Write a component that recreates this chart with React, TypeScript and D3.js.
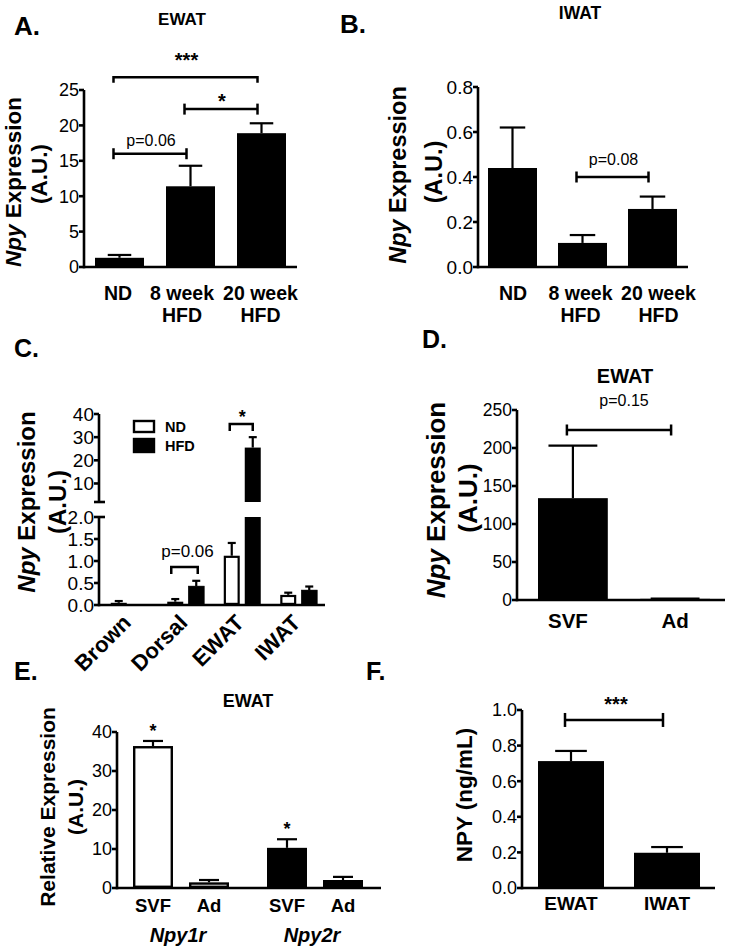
import React from "react";
import * as d3 from "d3";

const FONT = "'Liberation Sans', Arial, Helvetica, sans-serif";

// ---------- Panel A : EWAT ----------
const aCategories = ["ND", "8 week", "20 week"];
const aSublabels = ["", "HFD", "HFD"];
const aMeans = [1.3, 11.4, 18.9];
const aErrors = [0.4, 2.9, 1.4];
const aTicks = [0, 5, 10, 15, 20, 25];
const aBrackets = [
  { from: "ND", to: "20 week", level: 26.8, label: "***", kind: "down" },
  { from: "8 week", to: "20 week", level: 22.3, label: "*", kind: "H" },
  { from: "ND", to: "8 week", level: 16.0, label: "p=0.06", kind: "H" },
];

// ---------- Panel B : IWAT ----------
const bCategories = ["ND", "8 week", "20 week"];
const bSublabels = ["", "HFD", "HFD"];
const bMeans = [0.44, 0.107, 0.258];
const bErrors = [0.18, 0.035, 0.055];
const bTicks = [0, 0.2, 0.4, 0.6, 0.8];
const bBrackets = [{ from: "8 week", to: "20 week", level: 0.4, label: "p=0.08", kind: "H" }];

// ---------- Panel C : tissues ND vs HFD ----------
const cTissues = ["Brown", "Dorsal", "EWAT", "IWAT"];
const cDiets = ["ND", "HFD"];
const cNDMeans = [0.05, 0.075, 1.12, 0.23];
const cNDErrors = [0.04, 0.06, 0.29, 0.05];
const cHFDMeans = [0.01, 0.43, 25.5, 0.34];
const cHFDErrors = [0.0, 0.12, 4.5, 0.08];
const cLowerTicks = [0, 0.5, 1.0, 1.5, 2.0];
const cUpperTicks = [10, 20, 30, 40];
const cBreak = 2;

// ---------- Panel D : EWAT SVF vs Ad ----------
const dCategories = ["SVF", "Ad"];
const dMeans = [134, 1.5];
const dErrors = [69, 0.5];
const dTicks = [0, 50, 100, 150, 200, 250];
const dBrackets = [{ from: "SVF", to: "Ad", level: 223.7, label: "p=0.15", kind: "H" }];

// ---------- Panel E : receptors ----------
const eGenes = ["Npy1r", "Npy2r"];
const eFractions = ["SVF", "Ad"];
const eNpy1rMeans = [36.4, 1.45];
const eNpy1rErrors = [1.3, 0.6];
const eNpy2rMeans = [10.3, 2.05];
const eNpy2rErrors = [2.2, 0.8];
const eTicks = [0, 10, 20, 30, 40];
const eSignificant = ["SVF"];

// ---------- Panel F : NPY protein ----------
const fCategories = ["EWAT", "IWAT"];
const fMeans = [0.713, 0.198];
const fErrors = [0.057, 0.032];
const fTicks = [0, 0.2, 0.4, 0.6, 0.8, 1.0];
const fBrackets = [{ from: "EWAT", to: "IWAT", level: 0.944, label: "***", kind: "H" }];

const K = "#000";
const AXW = 2.6;

function YAxis({ x, scale, ticks, fmt, fs, y0, y1 }: any) {
  const top = y1 ?? scale(ticks[ticks.length - 1]);
  const bot = y0 ?? scale(ticks[0]);
  return (
    <g>
      <line x1={x} x2={x} y1={top} y2={bot + AXW / 2} stroke={K} strokeWidth={AXW} />
      {ticks.map((t: number) => (
        <g key={t}>
          <line x1={x - 5} x2={x} y1={scale(t)} y2={scale(t)} stroke={K} strokeWidth={AXW} />
          <text x={x - 5} y={scale(t)} dy="0.36em" textAnchor="end" fontSize={fs}>
            {fmt(t)}
          </text>
        </g>
      ))}
    </g>
  );
}

function ErrorBar({ cx, y1, y2, cap }: any) {
  return (
    <g stroke={K} strokeWidth={2.2}>
      <line x1={cx} x2={cx} y1={y1} y2={y2} />
      <line x1={cx - cap / 2} x2={cx + cap / 2} y1={y2} y2={y2} />
    </g>
  );
}

function Brackets({ list, x, y, fs, gapStar, gapText, capH, textDx = 0 }: any) {
  return (
    <g>
      {list.map((b: any, i: number) => {
        const x1 = x(b.from) + x.bandwidth() / 2 - 6;
        const x2 = x(b.to) + x.bandwidth() / 2 - 4;
        const yy = y(b.level);
        const mid = (x1 + x2) / 2;
        const isStar = b.label.startsWith("*");
        return (
          <g key={i}>
            {b.kind === "H" ? (
              <g stroke={K} strokeWidth={2.5}>
                <line x1={x1} x2={x2} y1={yy} y2={yy} />
                <line x1={x1} x2={x1} y1={yy - capH} y2={yy + capH} />
                <line x1={x2} x2={x2} y1={yy - capH} y2={yy + capH} />
              </g>
            ) : (
              <path d={`M${x1},${yy + capH}V${yy}H${x2}V${yy + capH}`} stroke={K} strokeWidth={2.5} fill="none" />
            )}
            {isStar ? (
              <text x={mid + textDx} y={yy - (b.kind === "H" ? gapStar : gapStar + 9) + 0.55 * 20} textAnchor="middle" fontSize={20} fontWeight="bold">
                {b.label}
              </text>
            ) : (
              <text x={mid + textDx} y={yy - gapText} textAnchor="middle" fontSize={fs}>
                {b.label}
              </text>
            )}
          </g>
        );
      })}
    </g>
  );
}

function SimpleBars({ cats, means, errs, x, y, capRatio, labelY, labelFs, sub, subY, labelDx }: any) {
  const y0 = y(0);
  const bw = x.bandwidth();
  return (
    <g>
      {cats.map((c: string, i: number) => {
        const bx = x(c);
        const cx = bx + bw / 2;
        const top = y(means[i]);
        const et = y(means[i] + errs[i]);
        const lx = cx + (labelDx ? labelDx[i] : 0);
        return (
          <g key={c}>
            <ErrorBar cx={cx} y1={top} y2={et} cap={bw * capRatio} />
            <rect x={bx} y={top} width={bw} height={y0 - top} fill={K} />
            <text x={lx} y={labelY} textAnchor="middle" fontWeight="bold" fontSize={labelFs}>
              {c}
            </text>
            {sub && sub[i] ? (
              <text x={lx} y={subY} textAnchor="middle" fontWeight="bold" fontSize={labelFs}>
                {sub[i]}
              </text>
            ) : null}
          </g>
        );
      })}
    </g>
  );
}

function RotLabel({ bx, cy, fs, children }: any) {
  return (
    <text transform={`translate(${bx},${cy}) rotate(-90)`} textAnchor="middle" fontWeight="bold" fontSize={fs}>
      {children}
    </text>
  );
}

export default function App() {
  const f1 = d3.format(".1f");
  const f0 = d3.format("d");

  // A
  const aX = d3.scaleBand<string>().domain(aCategories).range([95, 286]).paddingInner(0.31).paddingOuter(0);
  const aY = d3.scaleLinear().domain([0, 25]).range([267, 90]);
  // B
  const bX = d3.scaleBand<string>().domain(bCategories).range([488, 677]).paddingInner(0.3).paddingOuter(0);
  const bY = d3.scaleLinear().domain([0, 0.8]).range([267, 87]);
  // C
  const cX = d3.scaleBand<string>().domain(cTissues).range([101, 327]);
  const cInner = d3.scaleBand<string>().domain(cDiets).range([9.75, 46.75]).paddingInner(0.238).paddingOuter(0);
  const cYL = d3.scaleLinear().domain([0, cBreak]).range([605, 517]);
  const cYU = d3.scaleLinear().domain([cBreak, 40]).range([502, 414]);
  const cAxisX = 99;
  // D
  const dX = d3.scaleBand<string>().domain(dCategories).range([538, 710]).paddingInner(0.317).paddingOuter(0);
  const dY = d3.scaleLinear().domain([0, 250]).range([600, 410]);
  // E
  const eX = d3.scaleBand<string>().domain(eGenes).range([114, 382]);
  const eInner = d3.scaleBand<string>().domain(eFractions).range([19, 115]).paddingInner(0.286).paddingOuter(0);
  const eY = d3.scaleLinear().domain([0, 40]).range([888, 732]);
  // F
  const fX = d3.scaleBand<string>().domain(fCategories).range([538, 700]).paddingInner(0.3125).paddingOuter(0);
  const fY = d3.scaleLinear().domain([0, 1]).range([888, 710]);

  const cMeans = [cNDMeans, cHFDMeans];
  const cErrs = [cNDErrors, cHFDErrors];
  const eMeans = [eNpy1rMeans, eNpy2rMeans];
  const eErrs = [eNpy1rErrors, eNpy2rErrors];

  return (
    <svg
      width={731}
      height={952}
      viewBox="0 0 731 952"
      style={{ position: "absolute", left: 0, top: 0, background: "#fff" }}
      fontFamily={FONT}
    >
      <rect x={0} y={0} width={731} height={952} fill="#fff" />

      {/* ================= A ================= */}
      <text x={14} y={35} fontSize={26} fontWeight="bold">A.</text>
      <text x={182} y={25} fontSize={17} fontWeight="bold" textAnchor="middle">EWAT</text>
      <SimpleBars cats={aCategories} means={aMeans} errs={aErrors} x={aX} y={aY} capRatio={0.48} labelY={300} labelFs={19.5} sub={aSublabels} subY={322} labelDx={[-1.5, -8.5, -1]} />
      <YAxis x={84} scale={aY} ticks={aTicks} fmt={f0} fs={18} />
      <line x1={84} x2={297} y1={aY(0)} y2={aY(0)} stroke={K} strokeWidth={AXW} />
      <Brackets list={aBrackets} x={aX} y={aY} fs={16} gapStar={12} gapText={8} capH={5.5} textDx={1} />
      <RotLabel bx={21} cy={182} fs={22.5}>
        <tspan fontStyle="italic">Npy</tspan> Expression
      </RotLabel>
      <RotLabel bx={47} cy={174} fs={22.5}>(A.U.)</RotLabel>

      {/* ================= B ================= */}
      <text x={340} y={33} fontSize={26} fontWeight="bold">B.</text>
      <text x={580} y={19} fontSize={17.5} fontWeight="bold" textAnchor="middle">IWAT</text>
      <SimpleBars cats={bCategories} means={bMeans} errs={bErrors} x={bX} y={bY} capRatio={0.52} labelY={300} labelFs={19.5} sub={bSublabels} subY={322} labelDx={[0.5, -2, 6]} />
      <YAxis x={478} scale={bY} ticks={bTicks} fmt={f1} fs={19} />
      <line x1={478} x2={688} y1={bY(0)} y2={bY(0)} stroke={K} strokeWidth={AXW} />
      <Brackets list={bBrackets} x={bX} y={bY} fs={16} gapStar={12} gapText={12} capH={5.5} textDx={1} />
      <RotLabel bx={406} cy={175} fs={23.5}>
        <tspan fontStyle="italic">Npy</tspan> Expression
      </RotLabel>
      <RotLabel bx={442} cy={172} fs={23.5}>(A.U.)</RotLabel>

      {/* ================= C ================= */}
      <text x={14} y={357} fontSize={25} fontWeight="bold">C.</text>
      {cTissues.map((t, ti) => {
        const gx = cX(t)!;
        return (
          <g key={t}>
            {cDiets.map((d, di) => {
              const bx = gx + cInner(d)!;
              const bw = cInner.bandwidth();
              const cx = bx + bw / 2;
              const v = cMeans[di][ti];
              const e = cErrs[di][ti];
              const white = d === "ND";
              const inset = white ? 1.1 : 0;
              if (v <= cBreak) {
                const top = cYL(v);
                return (
                  <g key={d}>
                    {e > 0 ? <ErrorBar cx={cx} y1={top} y2={cYL(v + e)} cap={bw * 0.5} /> : null}
                    <rect x={bx + inset} y={top + inset} width={bw - 2 * inset} height={Math.max(0.5, cYL(0) - top - 2 * inset)} fill={white ? "#fff" : K} stroke={K} strokeWidth={white ? 2.2 : 0.5} />
                  </g>
                );
              }
              const topU = cYU(v);
              return (
                <g key={d}>
                  <ErrorBar cx={cx} y1={topU} y2={cYU(v + e)} cap={bw * 0.5} />
                  <rect x={bx} y={topU} width={bw} height={cYU(cBreak) - topU} fill={K} />
                  <rect x={bx} y={cYL(cBreak)} width={bw} height={cYL(0) - cYL(cBreak)} fill={K} />
                </g>
              );
            })}
            <text transform={`translate(${gx + cX.bandwidth() / 2 + 3},624) rotate(-45)`} textAnchor="end" fontWeight="bold" fontSize={22}>
              {t}
            </text>
          </g>
        );
      })}
      <YAxis x={cAxisX} scale={cYL} ticks={cLowerTicks} fmt={f1} fs={19} />
      <YAxis x={cAxisX} scale={cYU} ticks={cUpperTicks} fmt={f0} fs={19} y0={cYU(cBreak) - AXW / 2} />
      <line x1={cAxisX - 5} x2={cAxisX + 6} y1={cYU(cBreak)} y2={cYU(cBreak)} stroke={K} strokeWidth={AXW} />
      <line x1={cAxisX} x2={cAxisX + 6} y1={cYL(cBreak)} y2={cYL(cBreak)} stroke={K} strokeWidth={AXW} />
      <line x1={cAxisX} x2={325} y1={cYL(0)} y2={cYL(0)} stroke={K} strokeWidth={AXW} />
      {/* legend */}
      {cDiets.map((d, i) => (
        <g key={d}>
          <rect x={134} y={421 + i * 18} width={20} height={i === 0 ? 11 : 13} fill={i === 0 ? "#fff" : K} stroke={K} strokeWidth={2.4} />
          <text x={165} y={432 + i * 19} fontSize={14.5} fontWeight="bold">{d}</text>
        </g>
      ))}
      {/* C significance */}
      {(() => {
        const ex = cX("EWAT")!;
        const x1 = ex + cInner("ND")! + cInner.bandwidth() / 2 - 2;
        const x2 = ex + cInner("HFD")! + cInner.bandwidth() / 2;
        const yy = cYU(35.7);
        const dx = cX("Dorsal")!;
        const px1 = dx + cInner("ND")! + cInner.bandwidth() / 2 - 4;
        const px2 = dx + cInner("HFD")! + cInner.bandwidth() / 2 + 1.5;
        const py = cYL(0.864);
        return (
          <g>
            <path d={`M${x1},${yy + 7}V${yy}H${x2}V${yy + 7}`} stroke={K} strokeWidth={2.5} fill="none" />
            <text x={(x1 + x2) / 2 + 1} y={yy - 11 + 10} textAnchor="middle" fontSize={18} fontWeight="bold">*</text>
            <path d={`M${px1},${py + 7}V${py}H${px2}V${py + 7}`} stroke={K} strokeWidth={2.5} fill="none" />
            <text x={(px1 + px2) / 2 + 3} y={py - 10} textAnchor="middle" fontSize={17}>p=0.06</text>
          </g>
        );
      })()}
      <RotLabel bx={35} cy={502} fs={24}>
        <tspan fontStyle="italic">Npy</tspan> Expression
      </RotLabel>
      <RotLabel bx={66} cy={502} fs={24}>(A.U.)</RotLabel>

      {/* ================= D ================= */}
      <text x={422} y={348} fontSize={25} fontWeight="bold">D.</text>
      <text x={625} y={383} fontSize={20} fontWeight="bold" textAnchor="middle">EWAT</text>
      <SimpleBars cats={dCategories} means={dMeans} errs={dErrors} x={dX} y={dY} capRatio={0.7} labelY={628} labelFs={20.5} labelDx={[-5, 0]} />
      <YAxis x={517} scale={dY} ticks={dTicks} fmt={f0} fs={17.5} />
      <line x1={517} x2={725} y1={dY(0)} y2={dY(0)} stroke={K} strokeWidth={AXW} />
      <Brackets list={dBrackets} x={dX} y={dY} fs={16} gapStar={12} gapText={24} capH={5.5} textDx={5} />
      <RotLabel bx={445} cy={500} fs={26}>
        <tspan fontStyle="italic">Npy</tspan> Expression
      </RotLabel>
      <RotLabel bx={477} cy={498} fs={26}>(A.U.)</RotLabel>

      {/* ================= E ================= */}
      <text x={14} y={680} fontSize={25} fontWeight="bold">E.</text>
      <text x={248} y={707} fontSize={18} fontWeight="bold" textAnchor="middle">EWAT</text>
      {eGenes.map((g, gi) => {
        const gx = eX(g)!;
        const white = gi === 0;
        return (
          <g key={g}>
            {eFractions.map((fr, fi) => {
              const bx = gx + eInner(fr)!;
              const bw = eInner.bandwidth();
              const cx = bx + bw / 2;
              const v = eMeans[gi][fi];
              const e = eErrs[gi][fi];
              const top = eY(v);
              const inset = white ? 1.2 : 0;
              return (
                <g key={fr}>
                  <ErrorBar cx={cx} y1={top} y2={eY(v + e)} cap={bw * 0.5} />
                  <rect x={bx + inset} y={top + inset} width={bw - 2 * inset} height={eY(0) - top - 2 * inset} fill={white ? "#fff" : K} stroke={K} strokeWidth={white ? 2.4 : 0} />
                  {eSignificant.includes(fr) ? (
                    <text x={cx} y={eY(v + e) - 14 + 10} textAnchor="middle" fontSize={18} fontWeight="bold">*</text>
                  ) : null}
                  <text x={cx} y={912} textAnchor="middle" fontSize={18.5} fontWeight="bold">{fr}</text>
                </g>
              );
            })}
            <text x={gx + eX.bandwidth() / 2 - 3} y={942} textAnchor="middle" fontSize={20} fontWeight="bold" fontStyle="italic">{g}</text>
          </g>
        );
      })}
      <YAxis x={117} scale={eY} ticks={eTicks} fmt={f0} fs={18} />
      <line x1={117} x2={381} y1={eY(0)} y2={eY(0)} stroke={K} strokeWidth={AXW} />
      <RotLabel bx={55} cy={807} fs={21}>Relative Expression</RotLabel>
      <RotLabel bx={83} cy={807} fs={21}>(A.U.)</RotLabel>

      {/* ================= F ================= */}
      <text x={366} y={680} fontSize={25} fontWeight="bold">F.</text>
      <SimpleBars cats={fCategories} means={fMeans} errs={fErrors} x={fX} y={fY} capRatio={0.48} labelY={910} labelFs={19} />
      <YAxis x={522} scale={fY} ticks={fTicks} fmt={f1} fs={18} />
      <line x1={522} x2={715} y1={fY(0)} y2={fY(0)} stroke={K} strokeWidth={AXW} />
      <Brackets list={fBrackets} x={fX} y={fY} fs={16} gapStar={20} gapText={12} capH={7} textDx={2} />
      <RotLabel bx={472} cy={795} fs={22.5}>NPY (ng/mL)</RotLabel>
    </svg>
  );
}
